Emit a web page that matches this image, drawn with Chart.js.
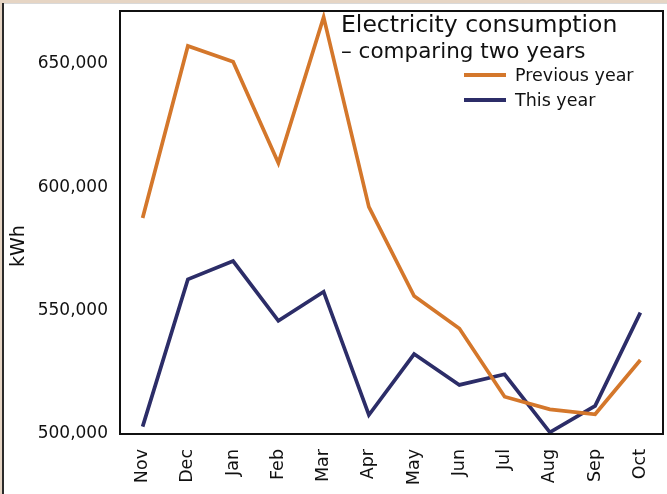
<!DOCTYPE html>
<html>
<head>
<meta charset="utf-8">
<script src="https://cdn.jsdelivr.net/npm/chart.js@4/dist/chart.umd.min.js"></script>
<style>
  html, body { margin: 0; padding: 0; background: #ffffff; }
  body { width: 667px; height: 494px; position: relative; overflow: hidden; }
  .edge-top { position: absolute; left: 0; top: 0; width: 667px; height: 3px; background: #e6d5c4; }
  .edge-top-line { position: absolute; left: 0; top: 3px; width: 667px; height: 1px; background: #d9d9d9; }
  .edge-left { position: absolute; left: 0; top: 0; width: 2px; height: 494px; background: #e6d5c4; }
  .edge-left-line { position: absolute; left: 2px; top: 3px; width: 2px; height: 491px; background: #2a2a2a; }
  #wrap { position: absolute; left: 0; top: 0; width: 667px; height: 494px; }
</style>
</head>
<body>
<div class="edge-top"></div>
<div class="edge-top-line"></div>
<div class="edge-left"></div>
<div class="edge-left-line"></div>
<div id="wrap"><canvas id="chart" width="667" height="494"></canvas></div>
<script>
// Monthly electricity use, November through October
const months = ['Nov', 'Dec', 'Jan', 'Feb', 'Mar', 'Apr', 'May', 'Jun', 'Jul', 'Aug', 'Sep', 'Oct'];
const previousYear = [587600, 657300, 650900, 609900, 669000, 592100, 555900, 542800, 515100, 510000, 508000, 530000];
const thisYear = [503000, 562700, 570100, 545900, 557700, 507700, 532400, 519900, 524200, 500700, 511400, 549200];
const yTicks = [500000, 550000, 600000, 650000];
const titleLines = ['Electricity consumption', '\u2013 comparing two years'];
const seriesNames = ['Previous year', 'This year'];
const unitLabel = 'kWh';

const FONT = '"DejaVu Sans", sans-serif';
const ORANGE = '#d4772b';
const NAVY = '#2c2d68';

// Frame around the plot, the unit label, and the title and legend inside the plot
const framePlugin = {
  id: 'frameAndKey',
  afterDatasetsDraw(chart) {
    const { ctx, chartArea: a } = chart;
    ctx.save();
    ctx.strokeStyle = '#111111';
    ctx.lineWidth = 2;
    ctx.strokeRect(a.left, a.top, a.right - a.left, a.bottom - a.top);

    ctx.fillStyle = '#111111';
    ctx.textAlign = 'left';
    ctx.textBaseline = 'alphabetic';
    ctx.font = '23.5px ' + FONT;
    ctx.fillText(titleLines[0], 341, 32);
    ctx.font = '21.5px ' + FONT;
    ctx.fillText(titleLines[1], 341, 58);

    ctx.font = '17.5px ' + FONT;
    ctx.textBaseline = 'middle';
    chart.data.datasets.forEach((ds, i) => {
      const y = 75 + i * 25;
      ctx.strokeStyle = ds.borderColor;
      ctx.lineWidth = 4;
      ctx.beginPath();
      ctx.moveTo(464, y);
      ctx.lineTo(506, y);
      ctx.stroke();
      ctx.fillStyle = '#111111';
      ctx.fillText(ds.label, 515, y + 1);
    });

    ctx.translate(19, 246);
    ctx.rotate(-Math.PI / 2);
    ctx.textAlign = 'center';
    ctx.textBaseline = 'middle';
    ctx.font = '19px ' + FONT;
    ctx.fillText(unitLabel, 0, 0);
    ctx.restore();
  }
};

new Chart(document.getElementById('chart'), {
  type: 'line',
  data: {
    labels: months,
    datasets: [
      { label: seriesNames[0], data: previousYear, borderColor: ORANGE, backgroundColor: ORANGE, borderWidth: 3.7 },
      { label: seriesNames[1], data: thisYear, borderColor: NAVY, backgroundColor: NAVY, borderWidth: 3.7 }
    ]
  },
  options: {
    responsive: false,
    animation: false,
    events: [],
    layout: { padding: { top: 11, right: 4, left: 0, bottom: 0 } },
    elements: {
      line: { tension: 0, borderJoinStyle: 'miter', borderCapStyle: 'butt' },
      point: { radius: 0 }
    },
    plugins: {
      legend: { display: false },
      title: { display: false },
      tooltip: { enabled: false }
    },
    scales: {
      x: {
        offset: true,
        grid: { display: false, drawTicks: false },
        border: { display: false },
        ticks: {
          color: '#111111',
          font: { family: FONT, size: 17.5 },
          minRotation: 90,
          maxRotation: 90,
          padding: 15
        },
        afterFit(scale) {
          scale.height = 60;
          scale.paddingLeft = 0;
          scale.paddingRight = 0;
        }
      },
      y: {
        min: 500000,
        max: 671500,
        grid: { display: false, drawTicks: false },
        border: { display: false },
        ticks: {
          color: '#111111',
          font: { family: FONT, size: 17 },
          padding: 12,
          callback: (v) => v.toLocaleString('en-US')
        },
        afterBuildTicks(scale) {
          scale.ticks = yTicks.map((v) => ({ value: v }));
        },
        afterFit(scale) {
          scale.width = 120;
          scale.paddingTop = 0;
          scale.paddingBottom = 0;
        }
      }
    }
  },
  plugins: [framePlugin]
});
</script>
</body>
</html>
